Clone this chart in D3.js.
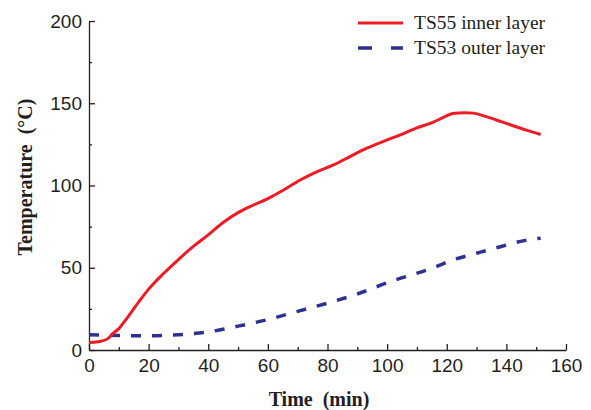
<!DOCTYPE html>
<html>
<head>
<meta charset="utf-8">
<script src="https://cdn.jsdelivr.net/npm/d3@7"></script>
<style>
body { margin: 0; background: #fff; }
.tick text { font-family: "Liberation Sans", Arial, sans-serif; font-size: 19px; fill: #231f20; }
.title { font-family: "Liberation Serif", "Times New Roman", serif; font-weight: bold; font-size: 20px; fill: #231f20; white-space: pre; }
.legend { font-family: "Liberation Serif", "Times New Roman", serif; font-size: 19.5px; fill: #231f20; }
</style>
</head>
<body>
<script>
// inner layer (TS55)
var innerTime = [0, 3, 6, 8, 10, 13, 17, 20, 25, 30, 35, 40, 45, 50, 55, 60, 65, 71, 76, 82, 88, 93, 99, 104, 110, 115.5, 119, 122, 126, 129, 133, 138, 142, 147, 151.5];
var innerTemp = [4.5, 5, 6.5, 10, 13, 20, 30, 37, 46.5, 55, 63, 70, 77.5, 83.5, 88, 92, 97, 103.5, 108, 112.5, 118, 122.5, 127, 130.5, 135, 138.5, 141.5, 143.8, 144.3, 144, 142, 139, 136.5, 133.5, 131];

// outer layer (TS53)
var outerTime = [0, 10, 20, 30, 40, 50, 60, 70, 81, 89, 101, 115.5, 122, 130, 138, 146, 151.5];
var outerTemp = [9.2, 8.8, 8.6, 9.3, 11, 14.5, 18.5, 23.5, 29, 33.4, 41.5, 50, 54.7, 58.8, 62.8, 66.5, 68];

var xTicks = [0, 20, 40, 60, 80, 100, 120, 140, 160];
var yTicks = [0, 50, 100, 150, 200];
var seriesNames = ["TS55 inner layer", "TS53 outer layer"];

var svg = d3.select('body').append('svg')
  .attr('width', 591)
  .attr('height', 410);

var x = d3.scaleLinear().domain([0, 160]).range([89, 566]);
var y = d3.scaleLinear().domain([0, 200]).range([350, 21]);
var ink = '#231f20';

// minor ticks first
svg.append('g').attr('transform', 'translate(0,350)')
  .call(d3.axisBottom(x).tickValues(d3.range(10, 160, 20)).tickSize(-3).tickFormat(''))
  .call(g => g.select('.domain').remove());
svg.append('g').attr('transform', 'translate(89,0)')
  .call(d3.axisLeft(y).tickValues([25, 75, 125, 175]).tickSize(-3).tickFormat(''))
  .call(g => g.select('.domain').remove());

var xAxis = svg.append('g').attr('transform', 'translate(0,350)')
  .call(d3.axisBottom(x).tickValues(xTicks).tickSize(-6).tickSizeOuter(0));
xAxis.selectAll('.tick text').attr('dy', '0.71em').attr('y', 9);

var yAxis = svg.append('g').attr('transform', 'translate(89,0)')
  .call(d3.axisLeft(y).tickValues(yTicks).tickSize(-6).tickSizeOuter(0));
yAxis.selectAll('.tick text').attr('x', -7);

svg.selectAll('.domain, .tick line').attr('stroke', ink).attr('stroke-width', 1.3);

var line = d3.line().x(d => x(d[0])).y(d => y(d[1])).curve(d3.curveMonotoneX);

svg.append('path')
  .datum(d3.zip(outerTime, outerTemp))
  .attr('d', line)
  .attr('fill', 'none')
  .attr('stroke', '#2e3192')
  .attr('stroke-width', 3.5)
  .attr('stroke-dasharray', '10,11');

svg.append('path')
  .datum(d3.zip(innerTime, innerTemp))
  .attr('d', line)
  .attr('fill', 'none')
  .attr('stroke', '#ed1c24')
  .attr('stroke-width', 3);

// axis titles
svg.append('text').attr('class', 'title')
  .attr('x', 319).attr('y', 406)
  .attr('text-anchor', 'middle')
  .text('Time  (min)');
svg.append('text').attr('class', 'title')
  .attr('transform', 'translate(32,177) rotate(-90)')
  .attr('text-anchor', 'middle')
  .text('Temperature  (°C)');

// legend
var leg = svg.append('g');
leg.append('line').attr('x1', 358).attr('x2', 403).attr('y1', 23).attr('y2', 23)
  .attr('stroke', '#ed1c24').attr('stroke-width', 3);
leg.append('line').attr('x1', 358).attr('x2', 403).attr('y1', 48).attr('y2', 48)
  .attr('stroke', '#2e3192').attr('stroke-width', 3.5).attr('stroke-dasharray', '14,19');
leg.selectAll('text.legend').data(seriesNames).enter().append('text')
  .attr('class', 'legend')
  .attr('x', 414)
  .attr('y', (d, i) => 29 + i * 25)
  .text(d => d);
</script>
</body>
</html>
